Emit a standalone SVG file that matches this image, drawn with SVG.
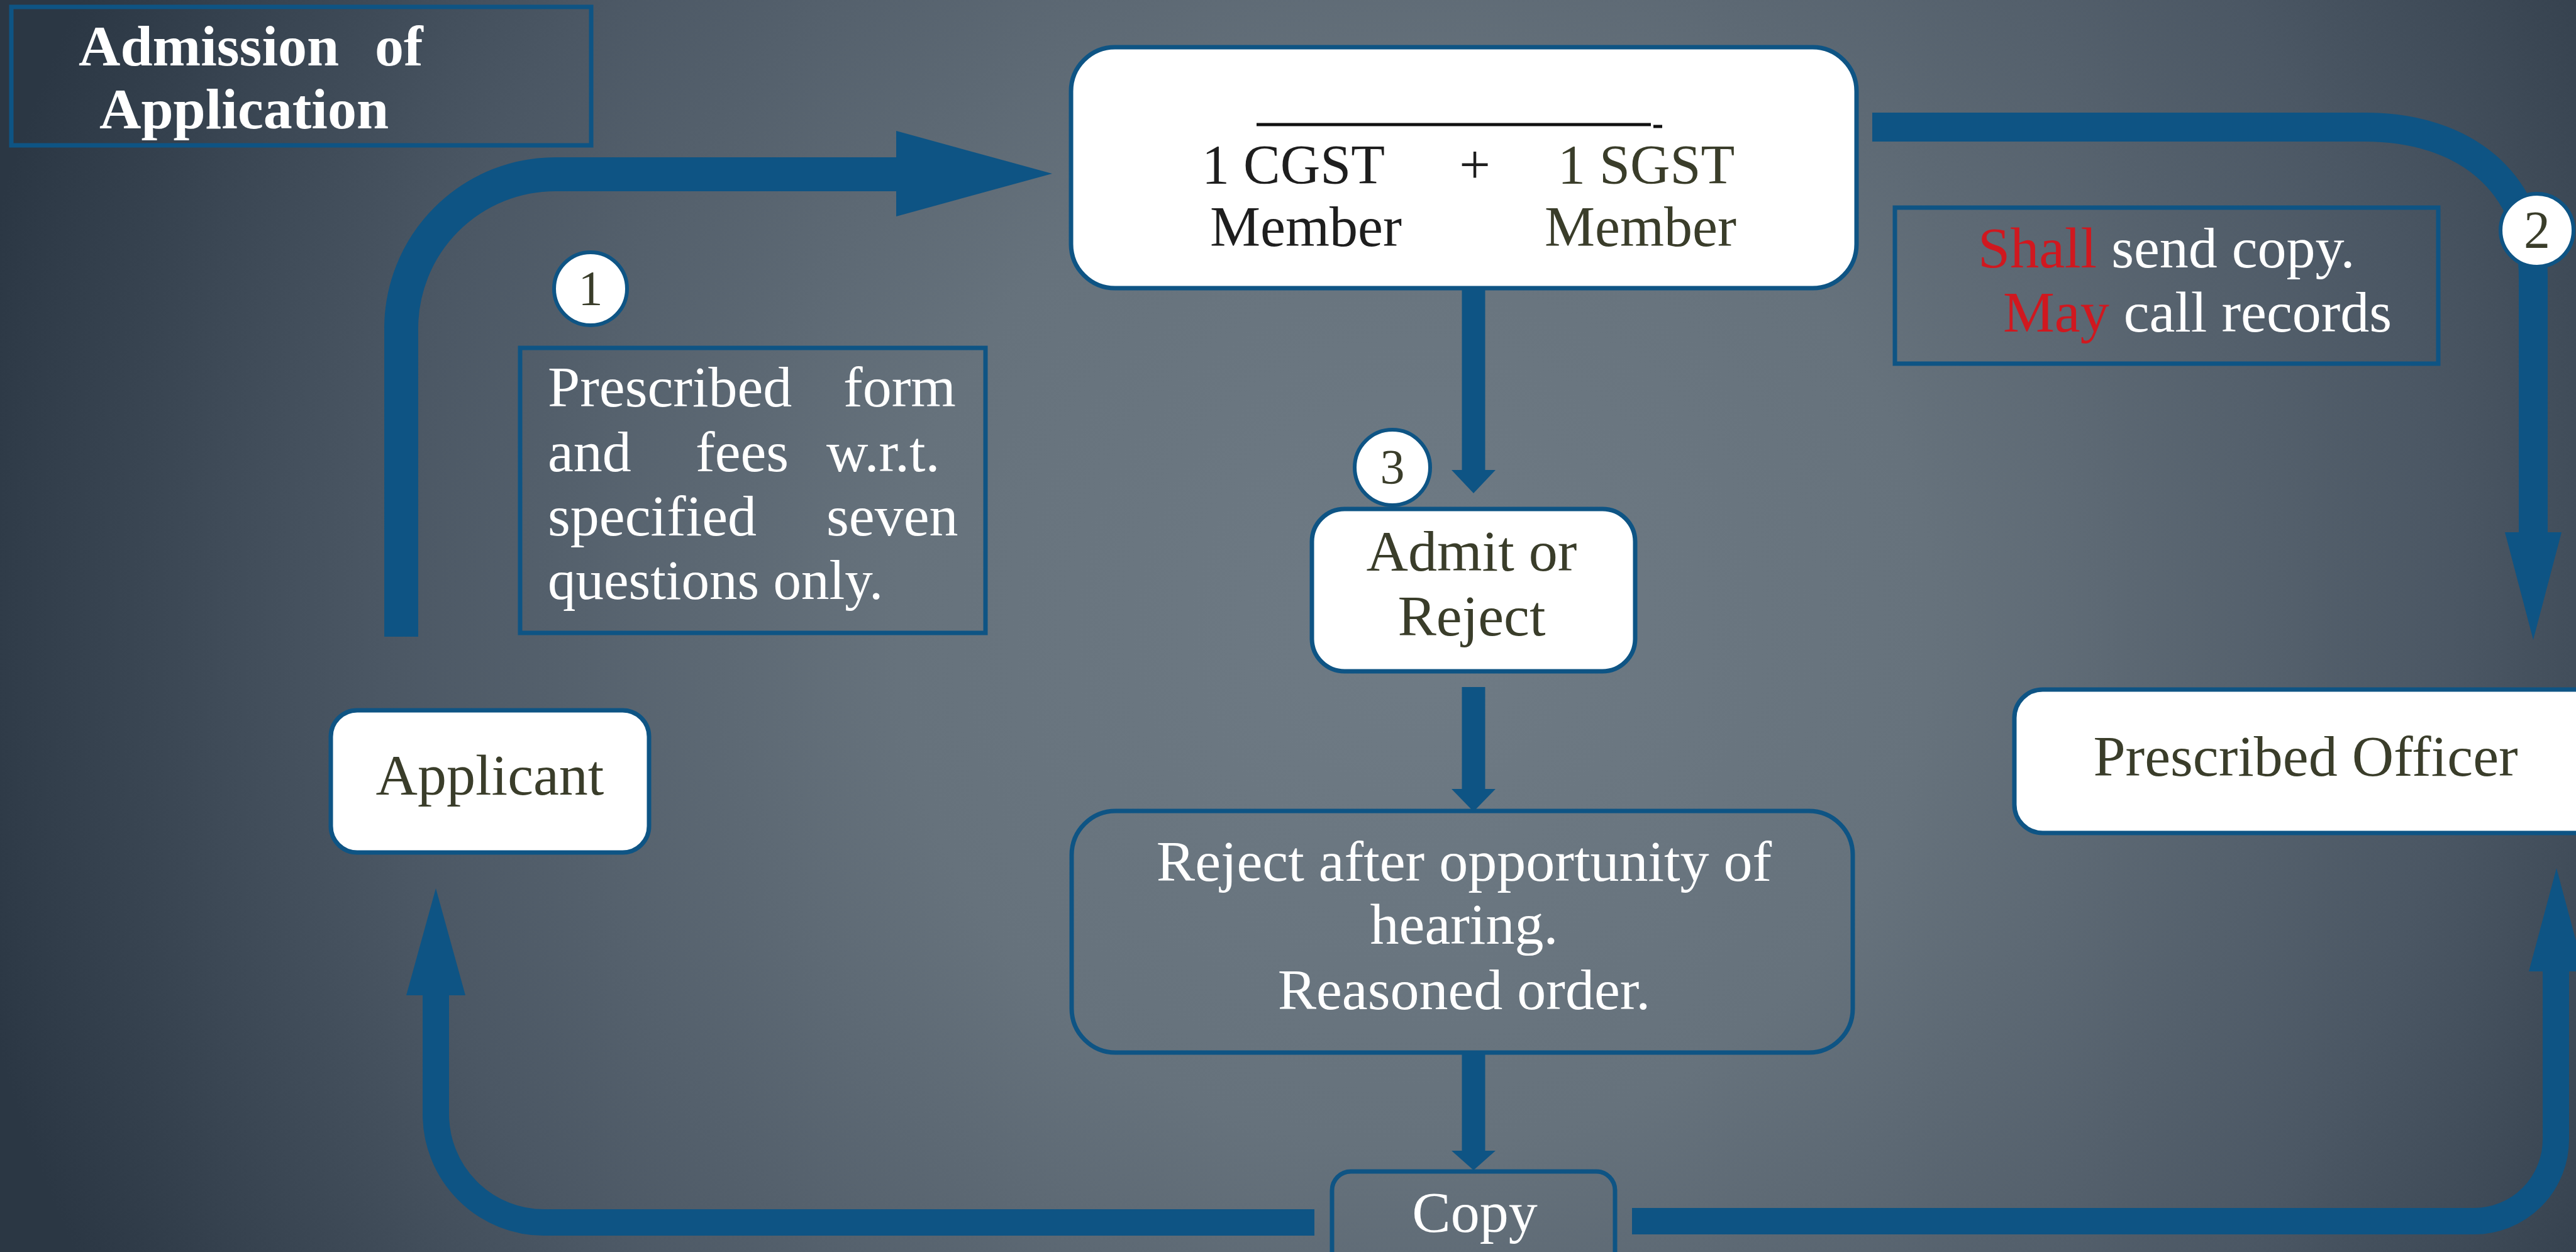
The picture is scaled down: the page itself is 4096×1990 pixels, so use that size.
<svg xmlns="http://www.w3.org/2000/svg" width="4096" height="1990" viewBox="0 0 4096 1990">
<defs>
<radialGradient id="bg" gradientUnits="userSpaceOnUse" cx="2250" cy="1000" r="2350">
<stop offset="0" stop-color="#6f7b85"/>
<stop offset="0.35" stop-color="#66727c"/>
<stop offset="0.7" stop-color="#4b5764"/>
<stop offset="1" stop-color="#2b3744"/>
</radialGradient>
</defs>
<style>
.t{font-family:"Liberation Serif","Times New Roman",serif;font-size:92px}
.b{font-weight:bold}
.w{fill:#ffffff}
.d{fill:#3a3d2a}
.k{fill:#1e1e1e}
.r{fill:#d0181f}
.m{text-anchor:middle}
.box{fill:none;stroke:#0e5484;stroke-width:7}
.wbox{fill:#ffffff;stroke:#0e5484;stroke-width:7}
.band{fill:none;stroke:#0e5484}
.head{fill:#0e5484}
.num{fill:#ffffff;stroke:#0e5484;stroke-width:6}
</style>
<rect x="0" y="0" width="4096" height="1990" fill="url(#bg)"/>

<g id="connectors">
<path class="band" stroke-width="54" d="M 638 1012 V 522 A 245 245 0 0 1 883 277 H 1430"/>
<polygon class="head" points="1425,208 1673,276 1425,344"/>
<path class="band" stroke-width="46" d="M 2977 202 H 3760 C 3920 202 4028 290 4028 440 V 850"/>
<polygon class="head" points="3983,846 4073,846 4028,1017"/>
<path class="band" stroke-width="42" d="M 2090 1943 H 865 A 172 172 0 0 1 693 1771 V 1578"/>
<polygon class="head" points="646,1582 740,1582 693,1412"/>
<path class="band" stroke-width="42" d="M 2595 1941 H 3934 A 130 130 0 0 0 4064 1811 V 1540"/>
<polygon class="head" points="4021,1544 4109,1544 4065,1380"/>
<rect class="head" x="2324.5" y="458" width="37" height="292"/>
<polygon class="head" points="2308,747 2378,747 2343,784"/>
<rect class="head" x="2324.5" y="1092" width="37" height="165"/>
<polygon class="head" points="2308,1254 2378,1254 2343,1290"/>
<rect class="head" x="2324.5" y="1673" width="37" height="159"/>
<polygon class="head" points="2308,1829 2378,1829 2343,1860"/>
</g>

<g id="title">
<rect class="box" x="18" y="11" width="922" height="220"/>
<text class="t b w" y="104"><tspan x="125">Admission</tspan><tspan x="596">of</tspan></text>
<text class="t b w" x="158" y="204">Application</text>
</g>

<g id="panel">
<rect class="wbox" x="1703" y="75" width="1249" height="383" rx="70"/>
<line x1="1998" y1="198" x2="2625" y2="198" stroke="#111111" stroke-width="5"/>
<line x1="2629" y1="201" x2="2643" y2="201" stroke="#111111" stroke-width="5"/>
<text class="t k" style="font-size:88px" x="1911" y="291">1 CGST</text>
<text class="t k m" style="font-size:88px" x="2345" y="291">+</text>
<text class="t d" style="font-size:88px" x="2477" y="291">1 SGST</text>
<text class="t k" style="font-size:90px" x="1924" y="391">Member</text>
<text class="t d" style="font-size:90px" x="2456" y="391">Member</text>
</g>

<g id="step1">
<circle class="num" cx="939" cy="459" r="58"/>
<text class="t d m" style="font-size:78px" x="939" y="484">1</text>
</g>

<g id="form-note">
<rect class="box" x="827" y="553" width="740" height="453"/>
<text class="t w" y="646"><tspan x="871">Prescribed</tspan><tspan x="1341">form</tspan></text>
<text class="t w" y="749"><tspan x="871">and</tspan><tspan x="1106">fees</tspan><tspan x="1314">w.r.t.</tspan></text>
<text class="t w" y="851"><tspan x="871">specified</tspan><tspan x="1314">seven</tspan></text>
<text class="t w" style="font-size:89px" x="871" y="952">questions only.</text>
</g>

<g id="copy-note">
<rect class="box" x="3013" y="330" width="864" height="248"/>
<text class="t w" x="3145" y="425"><tspan class="r">Shall</tspan> send copy.</text>
<text class="t w" x="3185" y="527"><tspan class="r">May</tspan> call records</text>
</g>

<g id="step2">
<circle class="num" cx="4034" cy="366" r="58"/>
<text class="t d m" style="font-size:84px" x="4034" y="394">2</text>
</g>

<g id="admit">
<rect class="wbox" x="2086" y="809" width="514" height="258" rx="52"/>
<text class="t d m" x="2340" y="907">Admit or</text>
<text class="t d m" x="2340" y="1010">Reject</text>
</g>

<g id="step3">
<circle class="num" cx="2214" cy="743" r="60"/>
<text class="t d m" style="font-size:78px" x="2214" y="768">3</text>
</g>

<g id="applicant">
<rect class="wbox" x="526" y="1129" width="506" height="226" rx="42"/>
<text class="t d m" x="779" y="1263">Applicant</text>
</g>

<g id="officer">
<rect class="wbox" x="3203" y="1096" width="960" height="228" rx="45"/>
<text class="t d m" x="3666" y="1233">Prescribed Officer</text>
</g>

<g id="reject">
<rect class="box" x="1704" y="1289" width="1242" height="384" rx="70"/>
<text class="t w m" x="2328" y="1400">Reject after opportunity of</text>
<text class="t w m" x="2328" y="1500">hearing.</text>
<text class="t w m" x="2328" y="1604">Reasoned order.</text>
</g>

<g id="copy">
<rect class="box" x="2118" y="1862" width="450" height="180" rx="30"/>
<text class="t w m" x="2345" y="1958">Copy</text>
</g>
</svg>
